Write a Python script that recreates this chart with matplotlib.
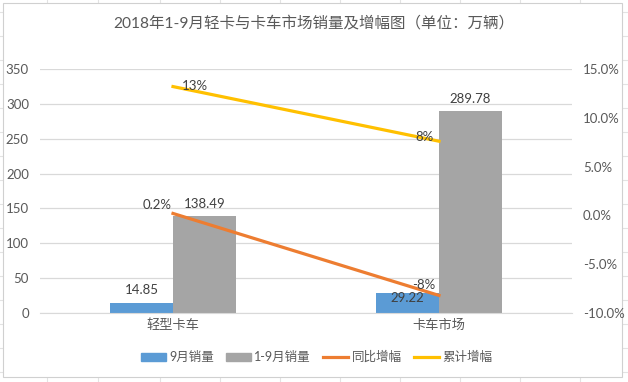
import matplotlib.pyplot as plt
from matplotlib.lines import Line2D
from matplotlib.patches import Rectangle
from matplotlib.ticker import FuncFormatter

plt.rcParams['font.family'] = ['Lato', 'Noto Sans CJK SC', 'DejaVu Sans']

categories = ['轻型卡车', '卡车市场']
sep_sales = [14.85, 29.22]
ytd_sales = [138.49, 289.78]
yoy_growth = [0.2, -8.2]
cum_growth = [13.2, 7.6]
yoy_labels = ['0.2%', '-8%']
cum_labels = ['13%', '8%']

BLUE = '#5B9BD5'
GRAY = '#A5A5A5'
ORANGE = '#ED7D31'
YELLOW = '#FFC000'
TEXT = '#595959'
LABEL = '#404040'

W, H = 628, 382
fig = plt.figure(figsize=(W / 100, H / 100), dpi=100)

# spreadsheet cell lines behind the chart
for xc in [47, 98, 160, 220, 280, 340, 400, 460, 520, 580]:
    fig.add_artist(Line2D([xc / W, xc / W], [0, 1], color='#E3E3E3', lw=0.8, zorder=0))
for yc in [12, 36, 60, 84, 108, 132, 156, 180, 204, 228, 252, 276, 300, 324, 348, 372]:
    fig.add_artist(Line2D([0, 1], [1 - yc / H, 1 - yc / H], color='#E3E3E3', lw=0.8, zorder=0))
fig.add_artist(Rectangle((3 / W, 1 - 377 / H), 619 / W, 374 / H, facecolor='white',
                         edgecolor='#D0D0D0', lw=0.8, zorder=0.5))

ax = fig.add_axes([40 / W, 1 - 313 / H, 532 / W, 244 / H])
ax.set_zorder(2)
ax.patch.set_visible(False)
ax2 = ax.twinx()

x = [0, 1]
bw = 0.237
b1 = ax.bar([i - bw / 2 for i in x], sep_sales, bw, color=BLUE, label='9月销量', zorder=2)
b2 = ax.bar([i + bw / 2 for i in x], ytd_sales, bw, color=GRAY, label='1-9月销量', zorder=2)

# data labels for the bars
ax.annotate(f'{sep_sales[0]:.2f}', (x[0] - bw / 2, sep_sales[0]), xytext=(0, 7),
            textcoords='offset pixels', ha='center', va='bottom', fontsize=9.5, color=LABEL)
ax.annotate(f'{sep_sales[1]:.2f}', (x[1] - bw / 2, sep_sales[1]), xytext=(0, -5),
            textcoords='offset pixels', ha='center', va='center', fontsize=9.5, color=LABEL,
            zorder=5)
for i in x:
    ax.annotate(f'{ytd_sales[i]:.2f}', (x[i] + bw / 2, ytd_sales[i]), xytext=(0, 6),
                textcoords='offset pixels', ha='center', va='bottom', fontsize=9.5, color=LABEL)

ax.set_xlim(-0.5, 1.5)
ax.set_ylim(0, 350)
ax.set_yticks(range(0, 351, 50))
ax.set_xticks(x)
ax.set_xticklabels(categories)
ax.grid(axis='y', color='#D9D9D9', lw=0.9, zorder=0)
ax.set_axisbelow(True)

ax2.plot(x, yoy_growth, color=ORANGE, lw=2.3, label='同比增幅', zorder=3)
ax2.plot(x, cum_growth, color=YELLOW, lw=2.3, label='累计增幅', zorder=3)
ax2.set_ylim(-10, 15)
ax2.set_yticks(range(-10, 16, 5))
ax2.yaxis.set_major_formatter(FuncFormatter(lambda v, p: f'{v:.1f}%'))

# data labels for the lines
ax2.annotate(yoy_labels[0], (x[0], yoy_growth[0]), xytext=(-16, 8), textcoords='offset pixels',
             ha='center', va='center', fontsize=9.5, color=LABEL)
ax2.annotate(yoy_labels[1], (x[1], yoy_growth[1]), xytext=(-15, 10), textcoords='offset pixels',
             ha='center', va='center', fontsize=9.5, color=LABEL)
ax2.annotate(cum_labels[0], (x[0], cum_growth[0]), xytext=(22, 1), textcoords='offset pixels',
             ha='center', va='center', fontsize=9.5, color=LABEL)
ax2.annotate(cum_labels[1], (x[1], cum_growth[1]), xytext=(-15, 4), textcoords='offset pixels',
             ha='center', va='center', fontsize=9.5, color=LABEL)

for a in (ax, ax2):
    for s in a.spines.values():
        s.set_visible(False)
    a.tick_params(length=0, colors=TEXT, labelsize=9.5)
ax.spines['bottom'].set_visible(True)
ax.spines['bottom'].set_color('#D9D9D9')
ax.tick_params(axis='y', pad=8)
ax2.tick_params(axis='y', pad=8)
ax.tick_params(axis='x', pad=4, labelsize=9.5)

fig.text(0.5, 1 - 23 / H, '2018年1-9月轻卡与卡车市场销量及增幅图（单位：万辆）',
         ha='center', va='center', fontsize=11.2, color=TEXT)

handles = [Rectangle((0, 0), 1, 1, color=BLUE), Rectangle((0, 0), 1, 1, color=GRAY),
           Line2D([], [], color=ORANGE, lw=2.3), Line2D([], [], color=YELLOW, lw=2.3)]
fig.legend(handles, ['9月销量', '1-9月销量', '同比增幅', '累计增幅'], loc='center',
           bbox_to_anchor=(0.504, 1 - 357 / H), ncol=4, frameon=False, fontsize=9,
           handlelength=2.0, handleheight=0.55, handletextpad=0.25, columnspacing=1.0,
           labelcolor=TEXT)

fig.savefig('out.png', dpi=100)
